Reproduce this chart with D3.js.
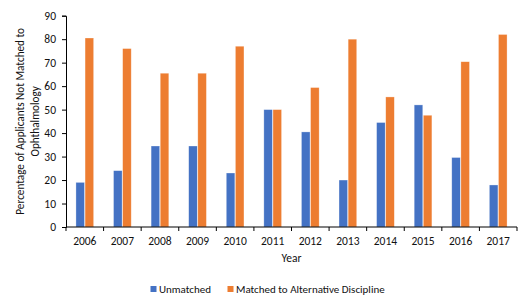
<!DOCTYPE html>
<html>
<head>
<meta charset="utf-8">
<script src="https://cdn.jsdelivr.net/npm/d3@7"></script>
<style>
  body { margin: 0; background: #fff; }
  svg text { font-family: Carlito, Calibri, "Liberation Sans", sans-serif; fill: #111; }
</style>
</head>
<body>
<svg id="chart" width="518" height="297"></svg>
<script>
// data
const years = ["2006","2007","2008","2009","2010","2011","2012","2013","2014","2015","2016","2017"];
const unmatched = [19, 24, 34.5, 34.5, 23, 50, 40.5, 20, 44.5, 52, 29.6, 17.9];
const matchedAlt = [80.5, 76, 65.5, 65.5, 77, 50, 59.4, 80, 55.4, 47.6, 70.4, 82];
const seriesNames = ["Unmatched", "Matched to Alternative Discipline"];
const yTicks = [0, 10, 20, 30, 40, 50, 60, 70, 80, 90];

const colors = ["#4472C4", "#ED7D31"];
const plotL = 66, plotR = 517, plotT = 15.7, plotB = 227;

const svg = d3.select("#chart");

const x = d3.scaleBand().domain(years).range([plotL, plotR]).paddingInner(0.5).paddingOuter(0.25);
const xSub = d3.scaleBand().domain([0, 1]).range([0, x.bandwidth()]).padding(0.06);
const y = d3.scaleLinear().domain([0, 90]).range([plotB, plotT]);

const rows = years.map((yr, i) => ({ year: yr, vals: [unmatched[i], matchedAlt[i]] }));

// bars
const groups = svg.selectAll(".grp").data(rows).enter().append("g")
  .attr("class", "grp")
  .attr("transform", d => `translate(${x(d.year)},0)`);

groups.selectAll("rect").data(d => d.vals).enter().append("rect")
  .attr("x", (d, i) => xSub(i))
  .attr("width", xSub.bandwidth())
  .attr("y", d => y(d))
  .attr("height", d => y(0) - y(d))
  .attr("fill", (d, i) => colors[i])
  .attr("stroke", "#fff")
  .attr("stroke-opacity", 0.5)
  .attr("stroke-width", 0.6);

// y axis
const yAxis = svg.append("g")
  .attr("transform", `translate(${plotL},0)`)
  .call(d3.axisLeft(y).tickValues(yTicks).tickSize(4).tickSizeOuter(4).tickPadding(6));
yAxis.select(".domain").attr("stroke", "#000");
yAxis.selectAll(".tick line").attr("stroke", "#000");
yAxis.selectAll("text").attr("font-size", "11.5px").attr("fill", "#111")
  .style("font-family", "Carlito, Calibri, 'Liberation Sans', sans-serif");

// x axis: ticks between categories
const step = x.step();
const boundaries = d3.range(years.length + 1).map(i => plotL + i * step);
const xAxis = svg.append("g").attr("transform", `translate(0,${plotB})`);
xAxis.append("line").attr("x1", plotL).attr("x2", plotR).attr("stroke", "#000");
xAxis.selectAll(".bt").data(boundaries).enter().append("line")
  .attr("x1", d => d).attr("x2", d => d).attr("y1", 0).attr("y2", 4).attr("stroke", "#000");
xAxis.selectAll(".lbl").data(years).enter().append("text")
  .attr("x", d => x(d) + x.bandwidth() / 2)
  .attr("y", 18)
  .attr("text-anchor", "middle")
  .attr("font-size", "11.5px")
  .text(d => d);

// axis titles
svg.append("text").attr("x", (plotL + plotR) / 2).attr("y", 262)
  .attr("text-anchor", "middle").attr("font-size", "11.5px").text("Year");

const yTitle = svg.append("text")
  .attr("transform", `translate(20,${(plotT + plotB) / 2}) rotate(-90)`)
  .attr("text-anchor", "middle").attr("font-size", "11.2px");
yTitle.append("tspan").attr("x", 0).attr("dy", "0.35em").text("Percentage of Applicants Not Matched to");
yTitle.append("tspan").attr("x", 0).attr("dy", "15").text("Ophthalmology");

// legend
const legendX = [150.5, 227.5];
const legend = svg.selectAll(".leg").data(seriesNames).enter().append("g")
  .attr("transform", (d, i) => `translate(${legendX[i]},289)`);
legend.append("rect").attr("x", 0).attr("y", -3).attr("width", 6).attr("height", 6)
  .attr("fill", (d, i) => colors[i]);
legend.append("text").attr("x", 8.5).attr("y", 0).attr("dy", "0.35em")
  .attr("font-size", "11px").text(d => d);
</script>
</body>
</html>
